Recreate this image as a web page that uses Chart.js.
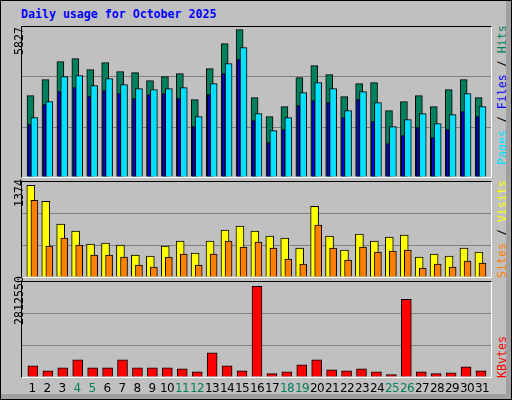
<!DOCTYPE html>
<html>
<head>
<meta charset="utf-8">
<script src="https://cdn.jsdelivr.net/npm/chart.js@4/dist/chart.umd.min.js"></script>
<style>
  body { margin: 0; background: #fff; }
  #wrap { position: relative; width: 510px; height: 398px; background: #c0c0c0; border: 1px solid #000; overflow: hidden; font-family: "DejaVu Sans Mono", monospace; }
  #wrap:after { content: ""; position: absolute; right: 0; top: 0; width: 5px; height: 100%; background: #a0a0a0; }
  #wrap:before { content: ""; position: absolute; left: 0; bottom: 0; height: 5px; width: 100%; background: #a0a0a0; }
  .panel { position: absolute; left: 20px; width: 471px; border-top: 1px solid #000; border-left: 1px solid #000; border-right: 1px solid #fff; border-bottom: 1px solid #fff; box-sizing: border-box; }
  .panel canvas { position: absolute; left: 0; top: 0; }
  .title { position: absolute; left: 20px; top: 6px; font: bold 11.6px "DejaVu Sans Mono", monospace; color: #0000ff; }
  .vl { position: absolute; transform-origin: 0 0; transform: rotate(-90deg); white-space: nowrap; font-size: 11.6px; }
  .day { position: absolute; top: 380px; width: 16px; text-align: center; font: 12px "DejaVu Sans", sans-serif; letter-spacing: -0.6px; color: #000; }
</style>
</head>
<body>
<div id="wrap">
  <div class="title">Daily usage for October 2025</div>
  <div class="panel" style="top:25px;height:152px"><canvas id="c1"></canvas></div>
  <div class="panel" style="top:180px;height:97px"><canvas id="c2"></canvas></div>
  <div class="panel" style="top:280px;height:97px"><canvas id="c3"></canvas></div>
  <div class="vl" style="left:11px;top:54px;color:#000">5827</div>
  <div class="vl" style="left:11px;top:206px;color:#000">1374</div>
  <div class="vl" style="left:11px;top:324px;color:#000">2812550</div>
  <div class="vl" style="left:494px;top:164px"><span style="color:#00e0ff">Pages</span> / <span style="color:#0000ff">Files</span> / <span style="color:#00805c">Hits</span></div>
  <div class="vl" style="left:494px;top:277px"><span style="color:#ff8000">Sites</span> / <span style="color:#ffff00">Visits</span></div>
  <div class="vl" style="left:494px;top:377px;color:#ff0000">KBytes</div>
  <div id="days"></div>
</div>
<script>
const days = Array.from({length: 31}, (_, i) => i + 1);
const weekend = [4, 5, 11, 12, 18, 19, 25, 26];

const hits = [3217, 3849, 4561, 4680, 4245, 4522, 4166, 4126, 3810, 3968, 4087, 3058, 4285, 5273, 5827, 3138,
  2386, 2782, 3929, 4403, 4047, 3177, 3691, 3731, 2623, 2979, 3217, 2782, 3454, 3849, 3138];
const pages = [2347, 2980, 3968, 4008, 3612, 3889, 3652, 3494, 3454, 3494, 3533, 2386, 3691, 4482, 5115, 2505,
  1833, 2347, 3335, 3731, 3494, 2624, 3375, 2940, 1991, 2268, 2505, 2109, 2465, 3296, 2782];
const files = [2069, 2860, 3374, 3532, 3176, 3414, 3295, 3097, 3256, 3295, 3097, 1990, 3256, 4086, 4640, 2227,
  1358, 1872, 2820, 3018, 2939, 2346, 3058, 2188, 1318, 1634, 1951, 1555, 1872, 2583, 2386];
const sites = [1374, 1135, 792, 687, 493, 508, 478, 329, 314, 463, 538, 358, 538, 702, 762, 687,
  612, 582, 433, 1060, 612, 403, 642, 538, 597, 627, 299, 343, 314, 433, 373];
const visits = [1150, 463, 582, 478, 329, 329, 299, 179, 149, 299, 343, 179, 343, 538, 448, 523,
  433, 269, 194, 777, 433, 254, 448, 373, 388, 403, 134, 194, 149, 239, 209];
const kbytes = [349000, 195000, 287000, 534000, 287000, 287000, 534000, 287000, 287000, 287000, 257000, 164000,
  749000, 349000, 195000, 2812550, 103000, 164000, 380000, 534000, 226000, 195000, 257000, 164000, 72000,
  2412000, 164000, 103000, 133000, 318000, 195000];

// day labels
const dayBox = document.getElementById('days');
days.forEach(d => {
  const el = document.createElement('div');
  el.className = 'day';
  el.style.left = (23 + 15 * (d - 1)) + 'px';
  if (weekend.includes(d)) el.style.color = '#00805c';
  el.textContent = d;
  dayBox.appendChild(el);
});

function series(values, offset, color, thickness) {
  return {
    data: values.map((v, i) => ({x: days[i] + offset, y: v})),
    backgroundColor: color,
    borderColor: '#000',
    borderWidth: 1,
    borderSkipped: 'bottom',
    barThickness: thickness,
    grouped: false
  };
}

function makeChart(id, w, h, datasets, max, step) {
  const cv = document.getElementById(id);
  cv.style.width = w + 'px';
  cv.style.height = h + 'px';
  new Chart(cv, {
    type: 'bar',
    data: {datasets: datasets},
    options: {
      responsive: false,
      animation: false,
      layout: {padding: 0},
      plugins: {legend: {display: false}, tooltip: {enabled: false}},
      scales: {
        x: {type: 'linear', min: 0.3, max: 31.7, offset: false, display: false},
        y: {
          min: 0, max: max,
          ticks: {display: false, stepSize: step},
          border: {display: false},
          grid: {color: ['transparent', '#808080', '#808080', 'transparent'], drawTicks: false, lineWidth: 1}
        }
      }
    }
  });
}

// first dataset is painted on top, so the widest/back bars go last
makeChart('c1', 469, 150, [
  series(files, -0.2, '#0000ff', 3),
  series(pages, 0.13, '#00e0ff', 7),
  series(hits, -0.13, '#00805c', 7)
], 5930, 1977);

makeChart('c2', 469, 95, [
  series(visits, 0.13, '#ff8000', 7),
  series(sites, -0.11, '#ffff00', 8)
], 1425, 475);

makeChart('c3', 469, 95, [
  series(kbytes, 0.03, '#ff0000', 10)
], 2950000, 983000);
</script>
</body>
</html>
